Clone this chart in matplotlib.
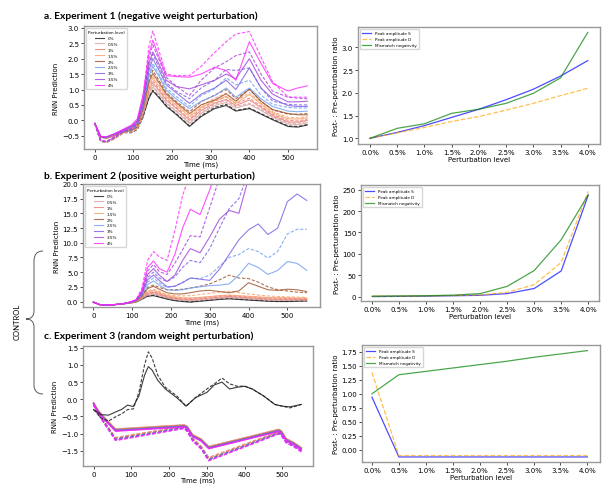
import numpy as np
import matplotlib.pyplot as plt
from matplotlib.path import Path
from matplotlib.patches import PathPatch

# ---------------- shared labels / colours ----------------
levels = ['0%', '0.5%', '1%', '1.5%', '2%', '2.5%', '3%', '3.5%', '4%']
level_colors = ['#1a1a1a', '#d8a0a0', '#e9786e', '#f7a06a', '#9c4f28',
                '#6d9cf2', '#7a5ce3', '#a13fd8', '#ff25ff']
ratio_ticks = ['0.0%', '0.5%', '1.0%', '1.5%', '2.0%', '2.5%', '3.0%', '3.5%', '4.0%']

# ---------------- Experiment 1 (negative perturbation) ----------------
t_a = [0, 15, 30, 50, 75, 95, 110, 125, 140, 150, 165, 185, 210, 245, 275, 310,
       340, 365, 400, 430, 460, 500, 525, 550]
exp1_solid = [
    [-0.10, -0.55, -0.58, -0.50, -0.38, -0.32, -0.22, 0.15, 0.72, 0.95, 0.75, 0.45, 0.20, -0.20, 0.12, 0.38, 0.48, 0.30, 0.38, 0.20, 0.02, -0.20, -0.22, -0.15],
    [-0.10, -0.55, -0.58, -0.50, -0.37, -0.30, -0.20, 0.22, 0.85, 1.08, 0.86, 0.55, 0.30, -0.10, 0.22, 0.48, 0.58, 0.40, 0.52, 0.32, 0.10, -0.12, -0.14, -0.08],
    [-0.10, -0.55, -0.57, -0.49, -0.36, -0.28, -0.18, 0.28, 0.98, 1.22, 0.98, 0.65, 0.40, 0.00, 0.32, 0.56, 0.68, 0.48, 0.66, 0.42, 0.16, -0.05, -0.06, 0.00],
    [-0.10, -0.54, -0.56, -0.48, -0.35, -0.26, -0.15, 0.35, 1.12, 1.38, 1.12, 0.76, 0.50, 0.12, 0.42, 0.64, 0.78, 0.55, 0.84, 0.52, 0.24, 0.05, 0.04, 0.08],
    [-0.10, -0.54, -0.56, -0.47, -0.34, -0.24, -0.12, 0.42, 1.25, 1.52, 1.25, 0.85, 0.58, 0.22, 0.50, 0.66, 0.86, 0.62, 1.02, 0.62, 0.35, 0.22, 0.18, 0.18],
    [-0.10, -0.53, -0.55, -0.46, -0.33, -0.22, -0.08, 0.50, 1.42, 1.75, 1.45, 0.98, 0.70, 0.38, 0.62, 0.80, 1.05, 0.75, 1.05, 0.70, 0.45, 0.30, 0.28, 0.30],
    [-0.10, -0.53, -0.55, -0.45, -0.32, -0.20, -0.05, 0.58, 1.62, 2.00, 1.65, 1.15, 0.90, 0.55, 0.85, 1.05, 1.30, 1.00, 1.70, 1.05, 0.70, 0.48, 0.45, 0.45],
    [-0.10, -0.52, -0.54, -0.44, -0.30, -0.18, 0.00, 0.70, 1.85, 2.22, 1.85, 1.30, 1.10, 1.02, 1.15, 1.30, 1.50, 1.35, 2.00, 1.30, 0.85, 0.60, 0.60, 0.62],
    [-0.10, -0.52, -0.54, -0.44, -0.28, -0.15, 0.05, 0.85, 2.15, 2.60, 2.10, 1.45, 1.42, 1.40, 1.50, 1.72, 1.62, 1.30, 2.55, 1.85, 1.20, 0.95, 1.05, 1.12],
]
exp1_dashed = [
    [-0.10, -0.68, -0.72, -0.60, -0.40, -0.40, -0.30, 0.10, 0.75, 0.98, 0.78, 0.48, 0.22, -0.18, 0.15, 0.42, 0.52, 0.32, 0.40, 0.22, 0.04, -0.18, -0.20, -0.14],
    [-0.10, -0.68, -0.72, -0.60, -0.40, -0.38, -0.28, 0.16, 0.90, 1.14, 0.90, 0.58, 0.32, -0.06, 0.26, 0.52, 0.64, 0.44, 0.56, 0.36, 0.12, -0.08, -0.10, -0.04],
    [-0.10, -0.67, -0.71, -0.59, -0.39, -0.37, -0.26, 0.22, 1.04, 1.30, 1.04, 0.70, 0.44, 0.05, 0.38, 0.62, 0.76, 0.54, 0.72, 0.46, 0.20, 0.00, -0.02, 0.04],
    [-0.10, -0.67, -0.71, -0.58, -0.38, -0.36, -0.24, 0.28, 1.18, 1.46, 1.18, 0.80, 0.54, 0.16, 0.48, 0.72, 0.88, 0.62, 0.90, 0.56, 0.28, 0.10, 0.08, 0.12],
    [-0.10, -0.66, -0.70, -0.57, -0.37, -0.34, -0.20, 0.35, 1.32, 1.62, 1.32, 0.90, 0.62, 0.28, 0.60, 0.82, 1.00, 0.70, 1.00, 0.62, 0.34, 0.20, 0.20, 0.22],
    [-0.10, -0.66, -0.70, -0.56, -0.36, -0.32, -0.16, 0.42, 1.50, 1.85, 1.52, 1.05, 0.78, 0.45, 0.80, 1.02, 1.38, 1.15, 1.30, 0.82, 0.52, 0.42, 0.40, 0.40],
    [-0.10, -0.65, -0.69, -0.55, -0.35, -0.30, -0.12, 0.50, 1.72, 2.15, 1.75, 1.22, 0.95, 0.70, 1.05, 1.30, 1.65, 1.62, 1.70, 1.05, 0.62, 0.52, 0.50, 0.50],
    [-0.10, -0.65, -0.69, -0.55, -0.34, -0.28, -0.08, 0.60, 2.00, 2.45, 2.00, 1.40, 1.12, 0.80, 1.30, 1.70, 1.90, 2.10, 2.22, 1.50, 0.95, 0.75, 0.72, 0.70],
    [-0.10, -0.64, -0.68, -0.54, -0.32, -0.25, -0.02, 0.75, 2.40, 2.90, 2.30, 1.50, 1.45, 1.45, 1.75, 2.20, 2.55, 2.80, 2.88, 2.05, 1.25, 0.76, 0.75, 0.75],
]
exp1_peak_s = [1.00, 1.13, 1.28, 1.46, 1.64, 1.85, 2.08, 2.37, 2.71]
exp1_peak_d = [1.00, 1.12, 1.24, 1.37, 1.48, 1.62, 1.77, 1.94, 2.10]
exp1_mmn = [1.00, 1.22, 1.32, 1.55, 1.64, 1.77, 1.99, 2.33, 3.33]

# ---------------- Experiment 2 (positive perturbation) ----------------
t_b = [0, 15, 30, 50, 75, 95, 110, 125, 140, 155, 170, 190, 210, 230, 250, 275,
       300, 325, 350, 375, 400, 425, 450, 475, 500, 525, 550]
exp2_solid = [
    [-0.1, -0.5, -0.6, -0.55, -0.4, -0.25, -0.10, 0.40, 0.90, 1.00, 0.75, 0.40, 0.15, 0.00, -0.10, 0.05, 0.20, 0.35, 0.45, 0.35, 0.25, 0.15, 0.05, 0.00, 0.00, 0.05, 0.10],
    [-0.1, -0.5, -0.6, -0.55, -0.4, -0.25, -0.05, 0.50, 1.10, 1.25, 1.00, 0.60, 0.35, 0.20, 0.15, 0.25, 0.40, 0.55, 0.65, 0.55, 0.45, 0.35, 0.25, 0.20, 0.20, 0.25, 0.25],
    [-0.1, -0.5, -0.6, -0.55, -0.4, -0.22, 0.00, 0.60, 1.35, 1.55, 1.25, 0.80, 0.55, 0.40, 0.35, 0.45, 0.60, 0.75, 0.85, 0.75, 0.65, 0.55, 0.45, 0.40, 0.40, 0.40, 0.40],
    [-0.1, -0.5, -0.6, -0.55, -0.4, -0.20, 0.05, 0.75, 1.65, 1.90, 1.55, 1.05, 0.80, 0.65, 0.60, 0.70, 0.85, 1.00, 1.10, 1.00, 0.90, 0.80, 0.70, 0.65, 0.65, 0.60, 0.60],
    [-0.1, -0.5, -0.6, -0.55, -0.4, -0.18, 0.10, 0.90, 2.20, 2.60, 2.10, 1.50, 1.30, 1.30, 1.50, 1.80, 1.90, 1.70, 1.50, 1.80, 3.20, 2.60, 2.00, 1.90, 2.10, 2.00, 1.70],
    [-0.1, -0.5, -0.6, -0.55, -0.4, -0.15, 0.15, 1.10, 2.90, 3.50, 2.80, 2.00, 1.90, 2.00, 2.30, 2.50, 2.70, 2.80, 3.00, 4.50, 6.50, 5.80, 4.60, 5.30, 6.80, 6.50, 5.30],
    [-0.1, -0.5, -0.6, -0.55, -0.4, -0.12, 0.20, 1.30, 3.70, 4.50, 3.60, 2.50, 2.60, 3.20, 4.00, 3.80, 3.60, 5.50, 8.00, 10.5, 12.2, 13.2, 11.4, 12.5, 17.0, 18.3, 17.2],
    [-0.1, -0.5, -0.6, -0.55, -0.4, -0.10, 0.25, 1.50, 4.60, 5.60, 4.50, 3.40, 4.50, 7.00, 9.00, 8.30, 11.0, 14.0, 15.5, 15.0, 21.0, 26.0, 30.0, 33.0, 36.0, 38.0, 40.0],
    [-0.1, -0.5, -0.6, -0.55, -0.4, -0.08, 0.30, 1.80, 5.80, 6.90, 5.60, 5.00, 8.00, 12.5, 15.7, 14.8, 19.0, 24.0, 28.0, 30.0, 33.0, 36.0, 38.0, 40.0, 42.0, 44.0, 46.0],
]
exp2_dashed = [
    [-0.1, -0.5, -0.6, -0.55, -0.4, -0.25, -0.10, 0.45, 0.95, 1.10, 0.85, 0.50, 0.20, 0.05, -0.05, 0.10, 0.25, 0.45, 0.55, 0.40, 0.30, 0.20, 0.10, 0.05, 0.05, 0.10, 0.10],
    [-0.1, -0.5, -0.6, -0.55, -0.4, -0.24, -0.05, 0.55, 1.20, 1.40, 1.10, 0.70, 0.45, 0.30, 0.25, 0.35, 0.50, 0.70, 0.80, 0.65, 0.55, 0.45, 0.35, 0.30, 0.30, 0.30, 0.30],
    [-0.1, -0.5, -0.6, -0.55, -0.4, -0.22, 0.00, 0.65, 1.45, 1.70, 1.35, 0.90, 0.65, 0.55, 0.55, 0.65, 0.80, 0.95, 1.05, 0.90, 0.80, 0.70, 0.60, 0.55, 0.50, 0.50, 0.50],
    [-0.1, -0.5, -0.6, -0.55, -0.4, -0.20, 0.05, 0.80, 1.80, 2.10, 1.70, 1.20, 1.00, 0.95, 1.00, 1.20, 1.40, 1.60, 1.75, 1.50, 1.30, 1.10, 0.95, 0.85, 0.80, 0.75, 0.70],
    [-0.1, -0.5, -0.6, -0.55, -0.4, -0.18, 0.10, 1.00, 2.40, 2.80, 2.40, 2.00, 2.00, 2.10, 2.30, 2.60, 3.00, 3.70, 4.50, 4.00, 3.90, 3.30, 2.50, 2.00, 1.80, 1.60, 1.50],
    [-0.1, -0.5, -0.6, -0.55, -0.4, -0.15, 0.15, 1.20, 3.30, 4.00, 3.20, 2.40, 2.60, 3.30, 4.00, 3.90, 4.50, 6.00, 7.50, 8.00, 9.00, 8.50, 7.40, 8.50, 11.5, 12.3, 12.3],
    [-0.1, -0.5, -0.6, -0.55, -0.4, -0.12, 0.20, 1.40, 4.10, 5.00, 4.00, 3.40, 4.20, 5.80, 7.00, 6.60, 9.00, 12.5, 15.8, 17.5, 22.0, 26.0, 29.0, 32.0, 35.0, 37.0, 39.0],
    [-0.1, -0.5, -0.6, -0.55, -0.4, -0.10, 0.25, 1.70, 5.20, 6.30, 5.10, 4.60, 6.50, 8.80, 11.2, 11.0, 16.0, 21.0, 25.0, 28.0, 31.0, 34.0, 37.0, 40.0, 42.0, 44.0, 46.0],
    [-0.1, -0.5, -0.6, -0.55, -0.4, -0.08, 0.30, 2.20, 7.00, 8.50, 7.60, 7.00, 12.0, 18.0, 22.0, 26.0, 30.0, 33.0, 36.0, 39.0, 42.0, 45.0, 48.0, 50.0, 52.0, 54.0, 56.0],
]
exp2_peak_s = [0.0, 0.5, 1.0, 2.0, 3.0, 7.0, 19.0, 60.0, 237.0]
exp2_peak_d = [1.0, 1.0, 1.5, 2.5, 4.0, 10.0, 28.0, 80.0, 246.0]
exp2_mmn = [1.0, 1.5, 2.0, 3.5, 7.0, 24.0, 61.0, 133.0, 238.0]

# ---------------- Experiment 3 (random perturbation) ----------------
t_c = [0, 20, 40, 60, 75, 90, 105, 120, 135, 145, 155, 170, 190, 220, 245, 270,
       300, 320, 340, 360, 380, 400, 420, 450, 480, 500, 520, 550]
exp3_control_solid = [-0.30, -0.45, -0.46, -0.36, -0.29, -0.17, -0.21, 0.10, 0.70, 0.95, 0.85, 0.55, 0.30, 0.05, -0.20, 0.05, 0.20, 0.42, 0.50, 0.30, 0.35, 0.38, 0.30, 0.10, -0.15, -0.20, -0.22, -0.15]
exp3_control_dashed = [-0.30, -0.55, -0.63, -0.50, -0.42, -0.30, -0.28, 0.20, 1.00, 1.38, 1.20, 0.70, 0.35, 0.10, -0.20, 0.05, 0.30, 0.45, 0.62, 0.45, 0.38, 0.38, 0.30, 0.10, -0.15, -0.20, -0.25, -0.15]
t_c_band = [0, 10, 25, 58, 240, 248, 262, 285, 305, 490, 497, 510, 530, 550]
exp3_solid = [
    [-0.10, -0.28, -0.48, -0.86, -0.74, -0.78, -1.02, -1.15, -1.37, -0.87, -0.91, -1.14, -1.25, -1.40],
    [-0.10, -0.29, -0.49, -0.87, -0.75, -0.79, -1.03, -1.16, -1.38, -0.88, -0.92, -1.15, -1.26, -1.41],
    [-0.11, -0.30, -0.50, -0.88, -0.76, -0.80, -1.04, -1.17, -1.39, -0.89, -0.93, -1.16, -1.27, -1.42],
    [-0.11, -0.31, -0.51, -0.89, -0.77, -0.81, -1.05, -1.18, -1.40, -0.90, -0.94, -1.17, -1.28, -1.43],
    [-0.12, -0.32, -0.52, -0.90, -0.78, -0.82, -1.06, -1.19, -1.41, -0.91, -0.95, -1.18, -1.29, -1.44],
    [-0.12, -0.33, -0.53, -0.91, -0.79, -0.83, -1.07, -1.20, -1.42, -0.92, -0.96, -1.19, -1.30, -1.45],
    [-0.13, -0.34, -0.54, -0.92, -0.80, -0.84, -1.08, -1.21, -1.43, -0.93, -0.97, -1.20, -1.31, -1.46],
    [-0.13, -0.35, -0.55, -0.93, -0.81, -0.85, -1.09, -1.22, -1.44, -0.94, -0.98, -1.21, -1.32, -1.47],
]
exp3_dashed = [
    [-0.13, -0.33, -0.58, -1.11, -0.78, -0.87, -1.12, -1.36, -1.69, -0.94, -0.99, -1.18, -1.30, -1.44],
    [-0.13, -0.34, -0.59, -1.12, -0.79, -0.88, -1.13, -1.37, -1.70, -0.95, -1.00, -1.19, -1.31, -1.45],
    [-0.14, -0.35, -0.60, -1.13, -0.80, -0.89, -1.14, -1.38, -1.72, -0.96, -1.01, -1.20, -1.32, -1.46],
    [-0.14, -0.36, -0.61, -1.15, -0.81, -0.90, -1.16, -1.40, -1.74, -0.97, -1.02, -1.22, -1.33, -1.48],
    [-0.15, -0.37, -0.62, -1.16, -0.82, -0.91, -1.17, -1.41, -1.75, -0.98, -1.03, -1.23, -1.34, -1.49],
    [-0.15, -0.38, -0.63, -1.17, -0.83, -0.92, -1.18, -1.42, -1.76, -0.99, -1.04, -1.24, -1.35, -1.50],
    [-0.16, -0.39, -0.64, -1.19, -0.84, -0.93, -1.20, -1.44, -1.78, -1.00, -1.05, -1.26, -1.37, -1.52],
    [-0.16, -0.40, -0.65, -1.20, -0.85, -0.94, -1.21, -1.45, -1.79, -1.01, -1.06, -1.27, -1.38, -1.53],
]
exp3_peak_s = [0.94, -0.125, -0.125, -0.125, -0.125, -0.125, -0.125, -0.125, -0.125]
exp3_peak_d = [1.38, -0.10, -0.10, -0.10, -0.10, -0.10, -0.10, -0.10, -0.10]
exp3_mmn = [1.00, 1.34, 1.40, 1.46, 1.52, 1.58, 1.65, 1.71, 1.77]

# ---------------- figure ----------------
W, H = 605, 485
fig = plt.figure(figsize=(W / 100, H / 100), dpi=100)
title_font = dict(family=['Lato', 'DejaVu Sans'], fontweight='bold', fontsize=7.4)


def px_axes(x0, y0, x1, y1):
    return fig.add_axes([x0 / W, 1 - y1 / H, (x1 - x0) / W, (y1 - y0) / H])


def style(ax):
    for s in ax.spines.values():
        s.set_color('0.6')
        s.set_linewidth(1.0)
    ax.tick_params(labelsize=5, length=2, width=0.5, pad=1.5)


def time_panel(ax, t, solid, dashed, xlim, ylim, legend=True):
    for k in range(len(solid)):
        ax.plot(t, solid[k], color=level_colors[k], lw=0.8, alpha=0.8, label=levels[k])
        ax.plot(t, dashed[k], color=level_colors[k], lw=0.8, alpha=0.8, ls='--', dashes=(3, 1.5))
    ax.set_xlim(*xlim)
    ax.set_ylim(*ylim)
    ax.set_xticks([0, 100, 200, 300, 400, 500])
    ax.set_xlabel('Time (ms)', fontsize=5, labelpad=0.5)
    ax.set_ylabel('RNN Prediction', fontsize=5, labelpad=2)
    style(ax)
    if legend:
        ax.legend(loc='upper left', title='Perturbation level', fontsize=3,
                  title_fontsize=3, labelspacing=0.45, handlelength=2.2,
                  borderpad=0.5, frameon=True, edgecolor='0.8')


def ratio_panel(ax, s, d, m, xlim, ylim, yticks):
    x = np.arange(len(ratio_ticks))
    ax.plot(x, s, color='blue', alpha=0.7, lw=0.9, label='Peak amplitude S')
    ax.plot(x, d, color='orange', alpha=0.7, lw=0.9, ls='--', label='Peak amplitude D')
    ax.plot(x, m, color='green', alpha=0.7, lw=0.9, label='Mismatch negativity')
    ax.set_xticks(x)
    ax.set_xticklabels(ratio_ticks)
    ax.set_yticks(yticks)
    ax.set_xlim(*xlim)
    ax.set_ylim(*ylim)
    ax.set_xlabel('Perturbation level', fontsize=5, labelpad=0.5)
    ax.set_ylabel('Post- : Pre-perturbation ratio', fontsize=5, labelpad=2)
    style(ax)
    ax.legend(loc='upper left', fontsize=3, labelspacing=0.5, handlelength=2.2,
              borderpad=0.5, frameon=True, edgecolor='0.8')


# a.
fig.text(44 / W, 1 - 16 / H, 'a. Experiment 1 (negative weight perturbation)', va='center', **title_font)
ax = px_axes(84, 27, 317, 150)
time_panel(ax, t_a, exp1_solid, exp1_dashed, (-28, 575), (-0.93, 3.06))
ax.set_yticks([-0.5, 0.0, 0.5, 1.0, 1.5, 2.0, 2.5, 3.0])
ax = px_axes(358, 28, 600, 145)
ratio_panel(ax, exp1_peak_s, exp1_peak_d, exp1_mmn, (-0.44, 8.45), (0.875, 3.45),
            [1.0, 1.5, 2.0, 2.5, 3.0])

# b.
fig.text(44 / W, 1 - 176 / H, 'b. Experiment 2 (positive weight perturbation)', va='center', **title_font)
ax = px_axes(83, 185, 320, 308)
time_panel(ax, t_b, exp2_solid, exp2_dashed, (-26.5, 584), (-0.93, 20))
ax.set_yticks([0, 2.5, 5, 7.5, 10, 12.5, 15, 17.5, 20])
ax = px_axes(361, 186, 599, 302)
ratio_panel(ax, exp2_peak_s, exp2_peak_d, exp2_mmn, (-0.42, 8.4), (-10.3, 261),
            [0, 50, 100, 150, 200, 250])

# c.
fig.text(44 / W, 1 - 336 / H, 'c. Experiment 3 (random weight perturbation)', va='center', **title_font)
ax = px_axes(83, 347, 313, 467)
for k in range(len(exp3_solid)):
    ax.plot(t_c_band, exp3_solid[k], color=level_colors[k + 1], lw=0.9, alpha=0.85)
    ax.plot(t_c_band, exp3_dashed[k], color=level_colors[k + 1], lw=0.9, alpha=0.85, ls='--', dashes=(3, 1.5))
ax.plot(t_c, exp3_control_solid, color=level_colors[0], lw=0.8, alpha=0.85)
ax.plot(t_c, exp3_control_dashed, color=level_colors[0], lw=0.8, alpha=0.85, ls='--', dashes=(3, 1.5))
ax.set_xlim(-28, 581)
ax.set_ylim(-1.94, 1.55)
ax.set_xticks([0, 100, 200, 300, 400, 500])
ax.set_yticks([-1.5, -1.0, -0.5, 0.0, 0.5, 1.0, 1.5])
ax.set_xlabel('Time (ms)', fontsize=5, labelpad=0)
ax.set_ylabel('RNN Prediction', fontsize=5, labelpad=2)
style(ax)
ax = px_axes(362, 346, 600, 463)
ratio_panel(ax, exp3_peak_s, exp3_peak_d, exp3_mmn, (-0.37, 8.47), (-0.215, 1.87),
            [0.0, 0.25, 0.5, 0.75, 1.0, 1.25, 1.5, 1.75])

# CONTROL bracket
pts = [(43, 252), (34, 252), (34, 262), (34, 312), (34, 320), (26, 320),
       (34, 320), (34, 328), (34, 386), (34, 395), (43, 395)]
codes = [Path.MOVETO, Path.CURVE3, Path.CURVE3, Path.LINETO, Path.CURVE3, Path.CURVE3,
         Path.CURVE3, Path.CURVE3, Path.LINETO, Path.CURVE3, Path.CURVE3]
verts = [(x / W, 1 - y / H) for x, y in pts]
fig.add_artist(PathPatch(Path(verts, codes), transform=fig.transFigure,
                         fill=False, lw=0.7, edgecolor='0.35'))
fig.text(17 / W, 1 - 322 / H, 'CONTROL', rotation=90, ha='center', va='center',
         family=['Lato', 'DejaVu Sans'], fontsize=5.5)

fig.savefig('out.png', dpi=100)
